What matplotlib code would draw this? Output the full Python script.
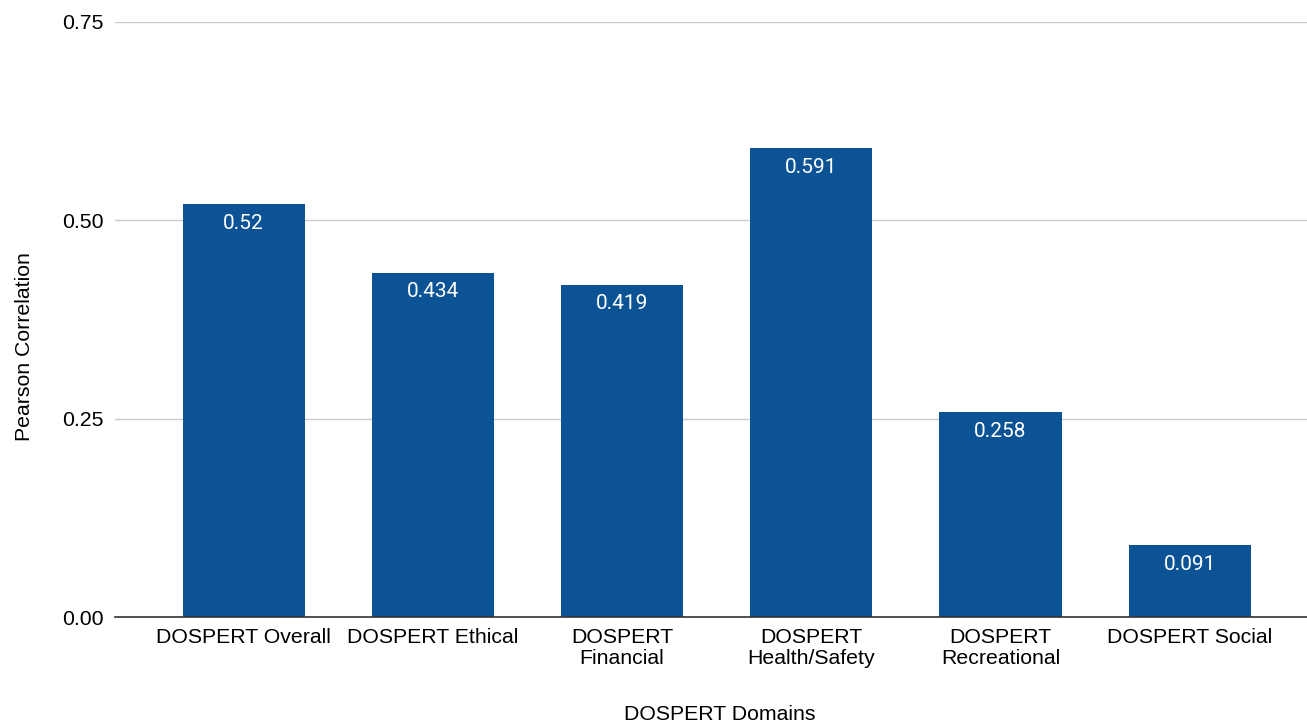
import numpy as np
import matplotlib.pyplot as plt

categories = ['DOSPERT Overall', 'DOSPERT Ethical', 'DOSPERT\nFinancial',
              'DOSPERT\nHealth/Safety', 'DOSPERT\nRecreational', 'DOSPERT Social']
values = [0.52, 0.434, 0.419, 0.591, 0.258, 0.091]
value_labels = ['0.52', '0.434', '0.419', '0.591', '0.258', '0.091']
yticks = [0.0, 0.25, 0.5, 0.75]

bar_color = '#0b5394'

plt.rcParams['font.family'] = ['Liberation Sans', 'DejaVu Sans']

fig = plt.figure(figsize=(13.07, 7.26), dpi=100)
ax = fig.add_axes([0.088, 0.150, 0.912, 0.820])

x = np.arange(len(categories))
bars = ax.bar(x, values, width=0.645, color=bar_color, zorder=3)

for b, lab in zip(bars, value_labels):
    ax.annotate(lab, (b.get_x() + b.get_width() / 2, b.get_height()),
                xytext=(0, -7), textcoords='offset points',
                ha='center', va='top', color='white', fontsize=15,
                family=['Roboto', 'DejaVu Sans'], zorder=4)

ax.set_xlim(-0.68, 5.62)
ax.set_ylim(0, 0.75)
ax.set_yticks(yticks)
ax.set_yticklabels(['%.2f' % t for t in yticks])
ax.set_xticks(x)
ax.set_xticklabels(categories, fontsize=15.3, linespacing=1.12)
ax.tick_params(axis='y', labelsize=15.3, length=0, pad=8)
ax.tick_params(axis='x', length=0, pad=8)

ax.grid(axis='y', color='#cccccc', linewidth=1, zorder=0)
for s in ['top', 'right', 'left']:
    ax.spines[s].set_visible(False)
ax.spines['bottom'].set_color('#333333')
ax.spines['bottom'].set_linewidth(1.2)
ax.spines['bottom'].set_zorder(5)

ax.set_xlabel('DOSPERT Domains', fontsize=15.3)
ax.xaxis.set_label_coords(0.507, -0.148)
ax.set_ylabel('Pearson Correlation', fontsize=15.3)
ax.yaxis.set_label_coords(-0.068, 0.455)

plt.savefig('out.png', dpi=100)
